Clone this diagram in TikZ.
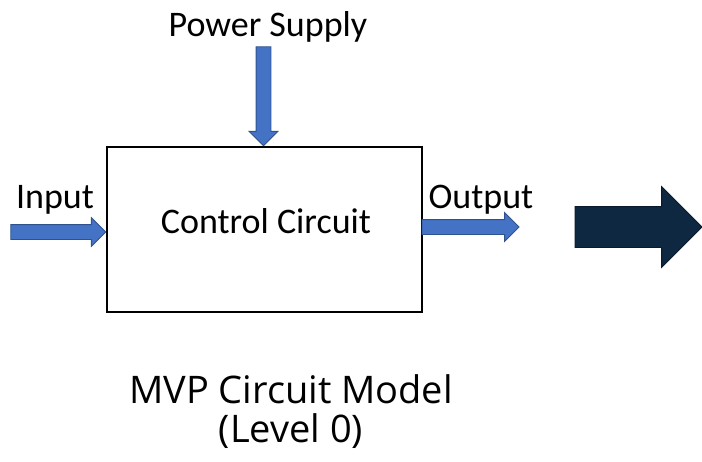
\documentclass[tikz,border=0pt]{standalone}
\usepackage{fontspec}
\setmainfont{Carlito}
\newfontfamily\titlefont{Open Sans}
\usepackage{tikz}
\usetikzlibrary{positioning,shapes.arrows}
\definecolor{flowBlue}{RGB}{68,114,196}
\definecolor{flowEdge}{RGB}{47,82,143}
\definecolor{navyDark}{RGB}{14,40,65}
\definecolor{navyEdge}{RGB}{8,26,44}

\begin{document}
\begin{tikzpicture}[
    x=1pt, y=-1pt,
    box/.style={rectangle, draw=black, line width=2.5pt, minimum width=315pt, minimum height=165pt, inner sep=0pt},
    lbl/.style={font=\fontsize{36}{40}\selectfont, anchor=base, inner sep=0pt},
    title/.style={font=\titlefont\fontsize{38}{42}\selectfont, anchor=base, inner sep=0pt},
    flow/.style={single arrow, draw=flowEdge, fill=flowBlue, line width=0.8pt, inner sep=7pt, outer sep=0pt, single arrow head extend=7pt, anchor=tip},
    bigflow/.style={single arrow, draw=navyEdge, fill=navyDark, line width=0.8pt, inner sep=20pt, outer sep=0pt, single arrow head extend=20pt, minimum height=127pt, anchor=tip}
]
\useasboundingbox (0,0) rectangle (702,461);
\node[box] (ctrl) at (264.5,229.5) {};
\node[lbl] (ctrltext) at (266,233) {Control Circuit};
% arrows into and out of the box
\node[flow, minimum height=95pt] (inarrow) at ([yshift=-2.5pt]ctrl.west) {};
\node[flow, minimum height=99pt, rotate=-90] (pwrarrow) at ([xshift=-1pt]ctrl.north) {};
\node[flow, minimum height=97pt] (outarrow) at (519,227) {};
\node[lbl] (intext) at (55,208) {Input};
\node[lbl] (pwrtext) at (268,36) {Power Supply};
\node[lbl] (outtext) at (481,208) {Output};
\node[bigflow] (next) at (702,227) {};
% caption
\node[title] (model) at (291,403) {MVP Circuit Model};
\node[title] (level) at (291,442) {(Level 0)};
\end{tikzpicture}
\end{document}
